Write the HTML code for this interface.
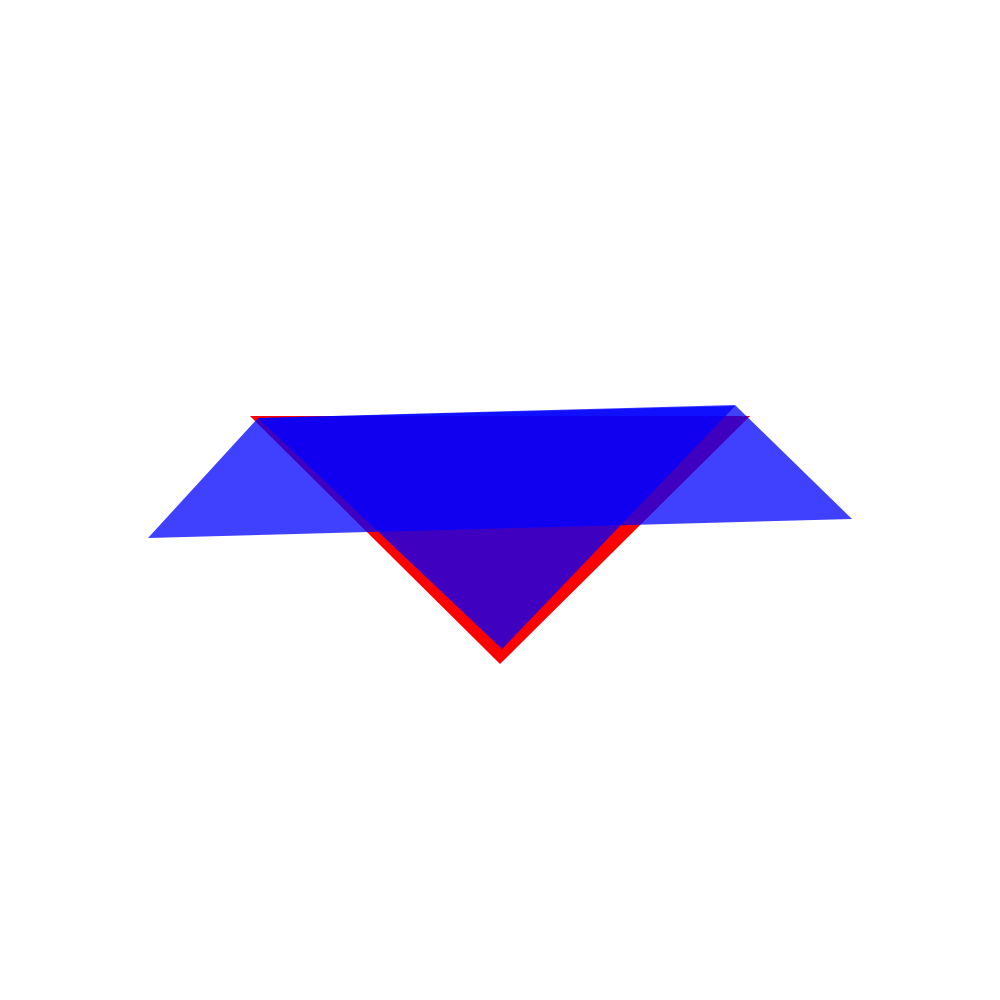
<!DOCTYPE html>
<html>
<head>
<meta charset="utf-8">
<style>
  html,body{margin:0;padding:0;background:#fff;}
  svg{display:block;}
</style>
</head>
<body>
<svg width="1000" height="1000" viewBox="0 0 1000 1000">
  <rect width="1000" height="1000" fill="#fff"/>
  <g id="marks"></g>
</svg>
<script>
// shape vertex data (screen projection)
const redTriX = [250, 750, 500];
const redTriY = [416, 416, 664];
const blueTriX = [258, 735, 502];
const blueTriY = [418, 406, 649];
const planeX = [148, 258, 735, 852];
const planeY = [538, 418, 405, 519];

const g = document.getElementById('marks');
const NS = 'http://www.w3.org/2000/svg';
function poly(xs, ys, fill, op) {
  const p = document.createElementNS(NS, 'polygon');
  p.setAttribute('points', xs.map((x, i) => x + ',' + ys[i]).join(' '));
  p.setAttribute('fill', fill);
  p.setAttribute('fill-opacity', op);
  g.appendChild(p);
  return p;
}
const r = poly(redTriX, redTriY, '#ff0000', 1);


const bt = poly(blueTriX, blueTriY, '#0000ff', 0.75);


const pl = poly(planeX, planeY, '#0000ff', 0.75);


</script>
</body>
</html>
